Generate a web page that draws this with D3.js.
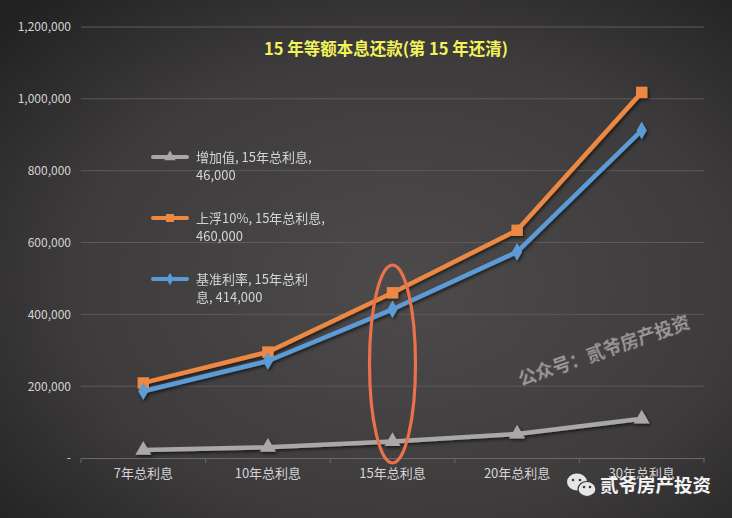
<!DOCTYPE html>
<html><head><meta charset="utf-8">
<script src="https://cdn.jsdelivr.net/npm/d3@7"></script>
<style>html,body{margin:0;padding:0;background:#333;}svg{display:block;}</style>
</head><body>
<script>
const categories = ["7年总利息","10年总利息","15年总利息","20年总利息","30年总利息"];
const gain   = [22000, 30000, 46000, 67000, 109000];
const raised = [209000, 295000, 460000, 634000, 1018000];
const base   = [186000, 270000, 414000, 574000, 912000];
const yTicks = [0, 200000, 400000, 600000, 800000, 1000000, 1200000];
const legendLines = [
  ["增加值, 15年总利息,", "46,000"],
  ["上浮10%, 15年总利息,", "460,000"],
  ["基准利率, 15年总利", "息, 414,000"]
];
const titleText = "15 年等额本息还款(第 15 年还清)";

const W = 732, H = 518;
const m = {left: 81, right: 28, top: 27, bottom: 60};
const svg = d3.select("body").append("svg").attr("width", W).attr("height", H);
const defs = svg.append("defs");
const rg = defs.append("radialGradient").attr("id","bg").attr("cx","0.55").attr("cy","0.55").attr("r","0.75");
rg.append("stop").attr("offset","0%").attr("stop-color","#4d4a4b");
rg.append("stop").attr("offset","60%").attr("stop-color","#3d3b3c");
rg.append("stop").attr("offset","100%").attr("stop-color","#222122");
svg.append("rect").attr("width",W).attr("height",H).attr("fill","url(#bg)");
const sh = defs.append("filter").attr("id","sh").attr("x","-10%").attr("y","-10%").attr("width","130%").attr("height","130%");
sh.append("feDropShadow").attr("dx",1.5).attr("dy",2).attr("stdDeviation",1.5).attr("flood-color","#000").attr("flood-opacity",0.55);

const x = d3.scaleBand().domain(categories).range([m.left, W - m.right]);
const y = d3.scaleLinear().domain([0, 1200000]).range([H - m.bottom, m.top]);
const font = "'Microsoft YaHei','Noto Sans CJK SC',sans-serif";

// gridlines
svg.append("g").selectAll("line").data(yTicks.slice(1)).join("line")
  .attr("x1", m.left).attr("x2", W - m.right)
  .attr("y1", d => y(d)).attr("y2", d => y(d))
  .attr("stroke", "#5c5a5b").attr("stroke-width", 1);

// y axis labels
const yAxis = d3.axisLeft(y).tickValues(yTicks).tickSize(0).tickPadding(10)
  .tickFormat(d => d === 0 ? "-" : d3.format(",")(d));
const gy = svg.append("g").attr("transform", `translate(${m.left},0)`).call(yAxis);
gy.select(".domain").remove();
gy.selectAll("text").attr("fill","#d4d4d4").attr("font-size","12px").attr("font-family",font);

// x axis
const xAxis = d3.axisBottom(x).tickSize(0).tickPadding(11);
const gx = svg.append("g").attr("transform", `translate(0,${y(0)})`).call(xAxis);
gx.select(".domain").attr("stroke","#6a6869");
gx.selectAll("text").attr("fill","#d4d4d4").attr("font-size","13px").attr("font-family",font);
const bounds = categories.map(c => x(c)).concat([x(categories[4]) + x.bandwidth()]);
gx.append("g").selectAll("line").data(bounds).join("line")
  .attr("x1", d => d).attr("x2", d => d).attr("y1", 0).attr("y2", 5).attr("stroke","#6a6869");

const cx = c => x(c) + x.bandwidth() / 2;
const line = d3.line().x((d,i) => cx(categories[i])).y(d => y(d));

const series = [
  {vals: gain,   color: "#a9a7a8", shape: d3.symbolTriangle, size: 110},
  {vals: raised, color: "#ec8842", shape: d3.symbolSquare,   size: 130},
  {vals: base,   color: "#5b9bd5", shape: d3.symbolDiamond,  size: 90}
];
const plot = svg.append("g").attr("filter","url(#sh)");
series.forEach(s => {
  plot.append("path").datum(s.vals).attr("d", line).attr("fill","none")
    .attr("stroke", s.color).attr("stroke-width", 4.5).attr("stroke-linejoin","round");
  plot.append("g").selectAll("path").data(s.vals).join("path")
    .attr("d", d3.symbol().type(s.shape).size(s.size))
    .attr("transform", (d,i) => `translate(${cx(categories[i])},${y(d)})`)
    .attr("fill", s.color);
});

// title
svg.append("text").attr("x", 386).attr("y", 55).attr("text-anchor","middle")
  .attr("fill","#f2f25a").attr("font-size","16.5px").attr("font-weight","bold")
  .attr("font-family",font).text(titleText);

// legend-like labels
const lg = svg.append("g");
const legendY = [162, 223, 284];
series.forEach((s, i) => {
  const g = lg.append("g").attr("transform", `translate(0,${legendY[i]})`);
  g.append("line").attr("x1",153).attr("x2",187).attr("y1",-5).attr("y2",-5)
    .attr("stroke", s.color).attr("stroke-width",4).attr("stroke-linecap","round");
  g.append("path").attr("d", d3.symbol().type(s.shape).size(s.size*0.5))
    .attr("transform","translate(170,-5)").attr("fill", s.color);
  legendLines[i].forEach((t, j) => {
    g.append("text").attr("x",196).attr("y", j*18).attr("fill","#d4d4d4")
      .attr("font-size","13px").attr("font-family",font).text(t);
  });
});

// ellipse highlight
svg.append("ellipse").attr("cx", cx(categories[2])).attr("cy", 364).attr("rx", 23).attr("ry", 99)
  .attr("fill","none").attr("stroke","#e9714c").attr("stroke-width",3.2);

// watermark
svg.append("text").attr("transform","translate(521,386) rotate(-19)")
  .attr("fill","#b8b6b7").attr("fill-opacity",0.75).attr("font-size","18px").attr("font-weight","bold")
  .attr("font-family",font).text("公众号：贰爷房产投资");

// wechat badge
const wc = svg.append("g").attr("transform","translate(567,474)");
wc.append("ellipse").attr("cx",10).attr("cy",8).attr("rx",10).attr("ry",8.5).attr("fill","#e6e6e6");
wc.append("ellipse").attr("cx",20).attr("cy",15).attr("rx",9).attr("ry",7.5).attr("fill","#e6e6e6").attr("stroke","#3a3839").attr("stroke-width",1.2);
[[6,6],[13,6],[17,13],[23,13]].forEach(p => wc.append("circle").attr("cx",p[0]).attr("cy",p[1]).attr("r",1.3).attr("fill","#3a3839"));
svg.append("text").attr("x",600).attr("y",492).attr("fill","#f4f4f4").attr("font-size","18.5px")
  .attr("font-weight","bold").attr("font-family",font).text("贰爷房产投资");
</script>
</body></html>
